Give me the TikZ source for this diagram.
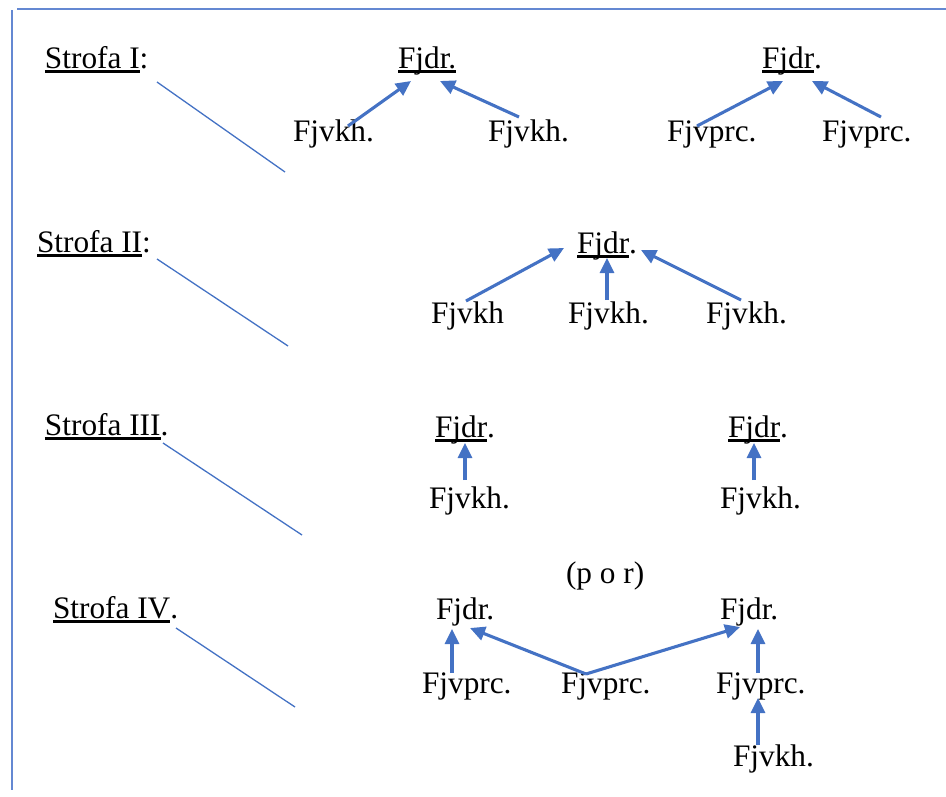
\documentclass[tikz,border=0pt]{standalone}
\usepackage{fontspec}
\setmainfont{Liberation Serif}
\usetikzlibrary{arrows.meta}
\definecolor{ablue}{HTML}{4472C4}
\definecolor{fblue}{RGB}{100,136,210}
\newsavebox{\myulbox}
\newcommand{\uln}[1]{\sbox{\myulbox}{#1}\rlap{\vrule height -2.2pt depth 4.6pt width \wd\myulbox}\usebox{\myulbox}}
\tikzset{
  txt/.style={inner sep=0pt, outer sep=0pt, anchor=base west, font=\fontsize{31.3pt}{37pt}\selectfont, text=black},
  arr/.style={draw=ablue, line width=3.1pt, -{Triangle[length=15pt,width=14pt]}},
  thin/.style={draw=ablue, line width=1.3pt},
  framel/.style={draw=fblue, line width=2pt}
}
\newcommand{\Tx}[4]{\node[txt] (#1) at (#2pt,-#3pt) {#4};}
\begin{document}
\begin{tikzpicture}
\useasboundingbox (0,0) rectangle (946pt,-796pt);
% frame
\draw[framel] (17pt,-9pt) -- (946pt,-9pt);
\draw[framel] (12pt,-10pt) -- (12pt,-790pt);
% labels
\Tx{L1}{45}{68}{\uln{Strofa I}:}
\Tx{L2}{37}{252}{\uln{Strofa II}:}
\Tx{L3}{45}{435}{\uln{Strofa III}.}
\Tx{L4}{53}{618}{\uln{Strofa IV}.}
% diagonal lines
\coordinate (d1a) at (157pt,-82pt);  \coordinate (d1b) at (285pt,-172pt);
\coordinate (d2a) at (157pt,-259pt); \coordinate (d2b) at (288pt,-346pt);
\coordinate (d3a) at (163pt,-443pt); \coordinate (d3b) at (302pt,-535pt);
\coordinate (d4a) at (176pt,-628pt); \coordinate (d4b) at (295pt,-707pt);
\draw[thin] (d1a) -- (d1b);
\draw[thin] (d2a) -- (d2b);
\draw[thin] (d3a) -- (d3b);
\draw[thin] (d4a) -- (d4b);
% Strofa I
\Tx{p1a}{398}{68}{\uln{Fjdr.}}
\Tx{p1b}{762}{68}{\uln{Fjdr}.}
\Tx{c1a}{293}{141}{Fjvkh.}
\Tx{c1b}{488}{141}{Fjvkh.}
\Tx{c1c}{667}{141}{Fjvprc.}
\Tx{c1d}{822}{141}{Fjvprc.}
\coordinate (a1s) at (348pt,-126pt); \coordinate (a1t) at (411pt,-81pt);
\coordinate (a2s) at (519pt,-117pt); \coordinate (a2t) at (440pt,-81pt);
\coordinate (a3s) at (697pt,-126pt); \coordinate (a3t) at (783pt,-81pt);
\coordinate (a4s) at (881pt,-117pt); \coordinate (a4t) at (812pt,-81pt);
\draw[arr] (a1s) -- (a1t);
\draw[arr] (a2s) -- (a2t);
\draw[arr] (a3s) -- (a3t);
\draw[arr] (a4s) -- (a4t);
% Strofa II
\Tx{p2}{577}{253}{\uln{Fjdr}.}
\Tx{c2a}{431}{323}{Fjvkh}
\Tx{c2b}{568}{323}{Fjvkh.}
\Tx{c2c}{706}{323}{Fjvkh.}
\coordinate (b1s) at (466pt,-301pt); \coordinate (b1t) at (564pt,-248pt);
\coordinate (b2s) at (607pt,-300pt); \coordinate (b2t) at (607pt,-258pt);
\coordinate (b3s) at (741pt,-300pt); \coordinate (b3t) at (641pt,-250pt);
\draw[arr] (b1s) -- (b1t);
\draw[arr] (b2s) -- (b2t);
\draw[arr] (b3s) -- (b3t);
% Strofa III
\Tx{p3a}{435}{437}{\uln{Fjdr}.}
\Tx{p3b}{728}{437}{\uln{Fjdr}.}
\Tx{c3a}{429}{508}{Fjvkh.}
\Tx{c3b}{720}{508}{Fjvkh.}
\coordinate (e1s) at (465pt,-480pt); \coordinate (e1t) at (465pt,-443pt);
\coordinate (e2s) at (754pt,-480pt); \coordinate (e2t) at (754pt,-443pt);
\draw[arr] (e1s) -- (e1t);
\draw[arr] (e2s) -- (e2t);
% Strofa IV
\Tx{por}{566}{583}{(p o r)}
\Tx{p4a}{436}{619}{Fjdr.}
\Tx{p4b}{720}{619}{Fjdr.}
\Tx{c4a}{422}{693}{Fjvprc.}
\Tx{c4b}{561}{693}{Fjvprc.}
\Tx{c4c}{716}{693}{Fjvprc.}
\Tx{g4}{733}{766}{Fjvkh.}
\coordinate (f1s) at (452pt,-673pt); \coordinate (f1t) at (452pt,-629pt);
\coordinate (fv) at (586pt,-674pt);
\coordinate (f2t) at (470pt,-628pt); \coordinate (f3t) at (740pt,-627pt);
\coordinate (f4s) at (758pt,-673pt); \coordinate (f4t) at (758pt,-629pt);
\coordinate (f5s) at (758pt,-745pt); \coordinate (f5t) at (758pt,-698pt);
\draw[arr] (f1s) -- (f1t);
\draw[arr] (fv) -- (f2t);
\draw[arr] (fv) -- (f3t);
\draw[arr] (f4s) -- (f4t);
\draw[arr] (f5s) -- (f5t);
\end{tikzpicture}
\end{document}
